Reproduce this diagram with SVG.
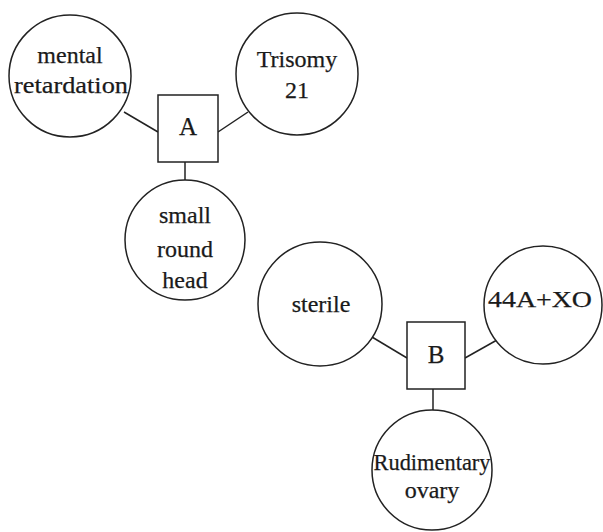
<svg xmlns="http://www.w3.org/2000/svg" width="603" height="532" viewBox="0 0 603 532">
<style>
.c{fill:#fff;stroke:#222;stroke-width:1.5}
.s{fill:#fff;stroke:#222;stroke-width:1.5}
.l{stroke:#222;stroke-width:1.5;fill:none}
text{font-family:"Liberation Serif","Times New Roman",serif;font-size:24px;fill:#1a1a1a;stroke:#1a1a1a;stroke-width:0.25;text-anchor:middle}
.big{font-size:25px}
</style>
<rect width="603" height="532" fill="#fff"/>
<g id="connectors">
<line class="l" x1="124" y1="112" x2="158" y2="132"/>
<line class="l" x1="218" y1="132" x2="248" y2="112"/>
<line class="l" x1="185" y1="162" x2="185" y2="182"/>
<line class="l" x1="372" y1="337" x2="407" y2="358"/>
<line class="l" x1="465" y1="358" x2="497" y2="340"/>
<line class="l" x1="433" y1="389" x2="433" y2="410"/>
</g>
<g id="mental">
<circle class="c" cx="70" cy="76" r="61"/>
<text x="70" y="63">mental</text>
<text x="71" y="93" textLength="114" lengthAdjust="spacingAndGlyphs">retardation</text>
</g>
<g id="trisomy">
<circle class="c" cx="297" cy="74" r="61"/>
<text x="297" y="67">Trisomy</text>
<text x="297" y="98">21</text>
</g>
<g id="A">
<rect class="s" x="158" y="95" width="60" height="67"/>
<text class="big" x="188" y="135">A</text>
</g>
<g id="smallhead">
<circle class="c" cx="185" cy="240" r="60"/>
<text x="185" y="223">small</text>
<text x="185" y="257">round</text>
<text x="185" y="288">head</text>
</g>
<g id="sterile">
<circle class="c" cx="320" cy="304" r="62"/>
<text x="321" y="312">sterile</text>
</g>
<g id="xo">
<circle class="c" cx="543" cy="305" r="59"/>
<text x="540" y="307" textLength="104" lengthAdjust="spacingAndGlyphs">44A+XO</text>
</g>
<g id="B">
<rect class="s" x="407" y="322" width="58" height="67"/>
<text class="big" x="436" y="363">B</text>
</g>
<g id="ovary">
<circle class="c" cx="432" cy="470" r="60"/>
<text x="432" y="470" textLength="117" lengthAdjust="spacingAndGlyphs">Rudimentary</text>
<text x="432" y="498">ovary</text>
</g>
</svg>
